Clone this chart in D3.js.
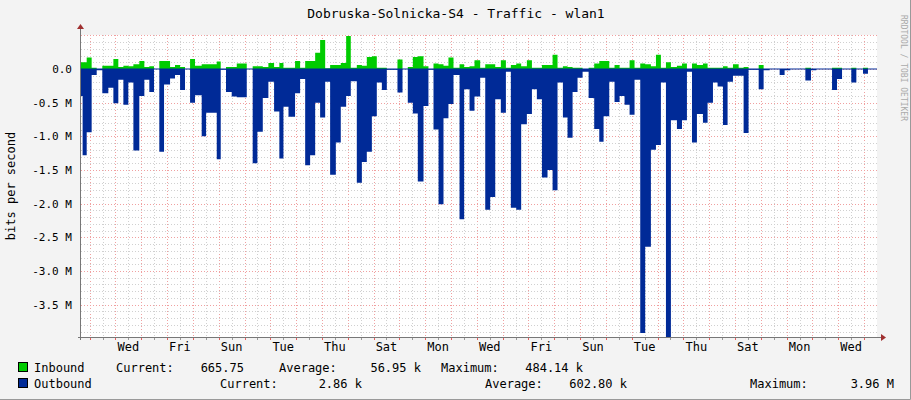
<!DOCTYPE html>
<html><head><meta charset="utf-8">
<script src="https://cdn.jsdelivr.net/npm/d3@7/dist/d3.min.js"></script>
<style>body{margin:0;background:#f3f3f3}svg{display:block}text{font-family:"DejaVu Sans Mono",monospace;fill:#000}</style>
</head><body><svg id="c" width="911" height="400"></svg>
<script>
// segment start times (hours from graph start), values in Mbit/s
const hours=[0,1.5,5.3,9.9,14.6,19.8,25.4,30.1,34.7,39.4,44,48.7,54.2,58.9,63.5,67.9,72.8,77.2,82.8,87.4,92.1,96.7,101.4,106,112.2,116.3,126.2,129.9,134.8,140.1,144.8,154.1,159.6,164,169,174.2,179.5,184.4,
188.2,192.9,199,203.7,208.4,213,217.7,222.3,227,231.6,236.9,241.5,246.5,250.8,256.4,261.1,265.7,270.4,275,279.7,284.3,294.2,298.9,303.8,308.5,313.1,318.4,323,327.7,332.4,337,341.6,346.3,351.9,356.2,361.2,365.8,
371.1,375.8,380.4,385.1,390.3,395,399.6,404.6,409.2,414.5,419.2,423.8,428.5,433.7,438.4,443,448,452.3,457,461.6,466.3,471.9,477.1,481.8,485.8,491.1,496,500.7,505.3,510,514.6,519.9,524.5,529.8,534.5,539.1,543.8,548.4,554,
558.7,563.3,568,572.6,578.2,582.5,587.5,591.8,596.8,601.1,606.1,611.4,616,620.6,630,634.6,640.2,649.5,654.1,659.4,673.4,678.6,683.6,698.2,702.8,707.5,716.1,720.8,727,731.6];
const inbound=[.1,.1,.17,.02,0,.05,.05,.15,.03,.05,.04,.07,.12,.03,.04,0,.12,.12,.03,.06,.03,0,.15,.05,.07,.07,.11,0,.03,.03,.08,0,.04,.04,.03,.09,.03,.09,
.02,.02,.12,.02,.12,.12,.24,.43,.01,.06,.06,.09,.49,.02,.06,.05,.18,.19,.02,.02,0,.14,0,.03,.18,.19,.04,0,.08,.07,.05,.17,.02,.07,.03,.04,.13,
.02,.07,.07,.03,.13,.02,.06,.08,.04,.13,.02,.02,.06,.06,.21,.02,.04,.03,.02,.02,0,.02,.08,.12,.12,.02,.06,.02,.02,.13,.02,.08,.07,.04,.21,.02,.1,.03,.05,
.08,0,.08,.06,.08,.02,.02,.02,.04,.02,.07,.02,.03,0,.06,0,0,0,0,0,.02,0,0,.02,.02,0,.02,0,.02,0];
const outbound=[-.4,-1.28,-.94,-.09,-.02,-.36,-.28,-.51,-.16,-.53,-.2,-1.21,-.4,-.16,-.34,0,-1.23,-.23,-.14,-.09,-.31,0,-.5,-.39,-1.0,-.65,-1.34,-.01,-.34,-.41,-.42,0,-1.4,-.93,-.43,-.19,-.63,-1.33,
-.56,-.71,-.36,-.15,-1.43,-1.28,-.5,-.72,-.19,-1.57,-1.09,-.56,-.4,-.18,-1.69,-1.38,-1.23,-.7,-.2,-.31,-.01,-.35,0,-.5,-.66,-1.67,-.55,-.01,-.9,-2.01,-.73,-.52,-.09,-2.23,-.3,-.62,-.41,
-.13,-2.09,-1.9,-.45,-.65,-.04,-2.06,-2.09,-.82,-.67,-.3,-.45,-1.61,-1.5,-1.8,-.2,-.72,-1.02,-.34,-.13,-.04,-.43,-.89,-1.08,-.7,-.19,-.49,-.4,-.53,-.68,-.16,-3.92,-2.64,-1.2,-1.13,-.2,-3.98,-.76,-.89,
-.76,-.04,-1.09,-.67,-.8,-.5,-.2,-.26,-.83,-.19,-.1,-.1,-.95,-.01,-.3,-.02,0,-.09,-.02,0,-.17,-.02,0,-.31,-.15,0,-.2,0,-.07,0];
const endHour=740;
const firstMidnight=8; // hours
const dayNames=["Tue","Wed","Thu","Fri","Sat","Sun","Mon"];
const yTicks=[0,-0.5,-1,-1.5,-2,-2.5,-3,-3.5];
const yTickLabels=["0.0","-0.5 M","-1.0 M","-1.5 M","-2.0 M","-2.5 M","-3.0 M","-3.5 M"];
const legendRows=[
 {name:"Inbound",color:"#00cc00",cols:[["Current:",116],["665.75",244,1],["Average:",279],["56.95 k",421,1],["Maximum:",441],["484.14 k",583,1]]},
 {name:"Outbound",color:"#002a97",cols:[["Current:",220],["2.86 k",362,1],["Average:",485],["602.80 k",627,1],["Maximum:",750],["3.96 M",894,1]]}
];

const svg=d3.select("#c");
const L=81,R=877,T=35,B=337;
const x=d3.scaleLinear().domain([0,endHour]).range([L,R]);
const y=d3.scaleLinear().domain([0.505,-3.98]).range([T,B]);
svg.append("rect").attr("x",0).attr("y",0).attr("width",911).attr("height",400).attr("fill","#f3f3f3");
svg.append("rect").attr("x",L).attr("y",T).attr("width",R-L).attr("height",B-T).attr("fill","#fff");
// grid
const g=svg.append("g");
const halfDays=d3.range(firstMidnight-12,endHour,12).filter(h=>h>0);
halfDays.forEach(h=>{const maj=((h-firstMidnight)%24)===0;
 g.append("line").attr("x1",Math.round(x(h))+.5).attr("x2",Math.round(x(h))+.5).attr("y1",T).attr("y2",B)
  .attr("stroke",maj?"#f0a0a0":"#d0d0d0").attr("stroke-dasharray","1,2");});
d3.range(-39,6).map(v=>v/10).forEach(v=>{const maj=Math.abs(v*2-Math.round(v*2))<1e-6;
 g.append("line").attr("x1",L).attr("x2",R).attr("y1",Math.round(y(v))+.5).attr("y2",Math.round(y(v))+.5)
  .attr("stroke",maj?"#f0a0a0":"#d0d0d0").attr("stroke-dasharray","1,2");});
// areas
const pts=(arr)=>hours.map((h,i)=>[h,arr[i]]).concat([[endHour,arr[arr.length-1]]]);
const area=d3.area().curve(d3.curveStepAfter).x(d=>x(d[0])).y0(y(0)).y1(d=>y(d[1]));
svg.append("path").attr("d",area(pts(outbound))).attr("fill","#002a97");
svg.append("path").attr("d",area(pts(inbound))).attr("fill","#00cc00");
svg.append("line").attr("x1",L).attr("x2",R).attr("y1",y(0)).attr("y2",y(0)).attr("stroke","#002a97").attr("stroke-width",1);
// axes
const ax=svg.append("g").attr("stroke","#777");
ax.append("line").attr("x1",L-.5).attr("x2",L-.5).attr("y1",T-6).attr("y2",B+3);
ax.append("line").attr("x1",L-3).attr("x2",R+4).attr("y1",B+.5).attr("y2",B+.5);
svg.append("path").attr("d",`M${R+4},${B-3}L${R+9},${B+.5}L${R+4},${B+4}Z`).attr("fill","#a03030");
svg.append("path").attr("d",`M${L-4},${T-6}L${L-.5},${T-11}L${L+3},${T-6}Z`).attr("fill","#a03030");
halfDays.forEach(h=>svg.append("line").attr("x1",Math.round(x(h))+.5).attr("x2",Math.round(x(h))+.5).attr("y1",B+1).attr("y2",B+3).attr("stroke",((h-firstMidnight)%24)===0?"#e06060":"#999"));
// x labels
const labelHours=d3.range(firstMidnight+24+12,endHour,48);
labelHours.forEach(h=>{const di=Math.floor((h-firstMidnight)/24)%7;
 svg.append("text").attr("x",x(h)).attr("y",351).attr("text-anchor","middle").attr("font-size","12px").text(dayNames[di]);});
yTicks.forEach((v,i)=>svg.append("text").attr("x",72).attr("y",y(v)+4).attr("text-anchor","end").attr("font-size","11px").text(yTickLabels[i]));
svg.append("text").attr("x",456).attr("y",18).attr("text-anchor","middle").attr("font-size","13px").text("Dobruska-Solnicka-S4 - Traffic - wlan1");
svg.append("text").attr("transform","translate(15,186) rotate(-90)").attr("text-anchor","middle").attr("font-size","12px").text("bits per second");
svg.append("text").attr("transform","translate(901,68) rotate(90)").attr("text-anchor","middle").attr("font-size","8px").style("fill","#aaa").text("RRDTOOL / TOBI OETIKER");
legendRows.forEach((r,i)=>{const yy=372+i*16;
 svg.append("rect").attr("x",18.5).attr("y",yy-9.5).attr("width",9).attr("height",9).attr("fill",r.color).attr("stroke","#000");
 svg.append("text").attr("x",34).attr("y",yy).attr("font-size","12px").text(r.name);
 r.cols.forEach(c=>svg.append("text").attr("x",c[1]).attr("y",yy).attr("font-size","12px").attr("text-anchor",c[2]?"end":"start").attr("xml:space","preserve").text(c[0]));});
svg.append("path").attr("d","M0,399.5H910.5V0").attr("fill","none").attr("stroke","#999");
</script></body></html>
